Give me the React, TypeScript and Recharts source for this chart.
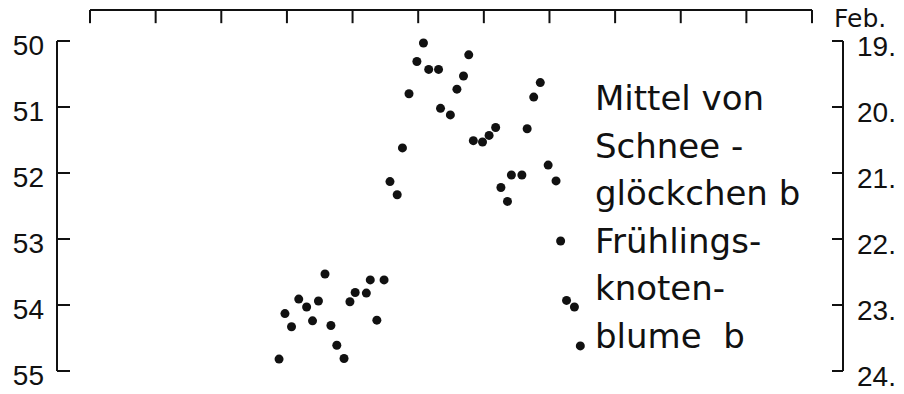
import React from "react";
import {
  ScatterChart,
  Scatter,
  XAxis,
  YAxis,
  ReferenceLine,
} from "recharts";

// Jahr (relativ, 10er-Teilung der oberen Achse) und Tag im Jahr
const jahre = [
  28.8, 29.7, 30.7, 31.8, 33.0, 33.9, 34.8, 35.8, 36.7, 37.6, 38.7, 39.6,
  40.4, 42.1, 42.7, 43.7, 44.8, 45.7, 46.8, 47.6, 48.6, 49.8, 50.8, 51.6,
  53.1, 53.4, 54.9, 55.9, 56.9, 57.7, 58.4, 59.8, 60.8, 61.8, 62.6, 63.6,
  64.2, 65.8, 66.6, 67.6, 68.6, 69.8, 71.0, 71.7, 72.6, 73.8, 74.7,
];
const tage = [
  54.82, 54.13, 54.33, 53.91, 54.03, 54.24, 53.94, 53.53, 54.31, 54.61,
  54.81, 53.95, 53.81, 53.82, 53.62, 54.23, 53.62, 52.13, 52.33, 51.62,
  50.8, 50.31, 50.03, 50.43, 50.43, 51.02, 51.12, 50.73, 50.53, 50.21,
  51.51, 51.53, 51.43, 51.31, 52.22, 52.43, 52.03, 52.03, 51.33, 50.85,
  50.63, 51.88, 52.12, 53.03, 53.93, 54.03, 54.62,
];

const tagTicks = [50, 51, 52, 53, 54, 55];
const datumLabels = ["19.", "20.", "21.", "22.", "23.", "24."];
const dekaden = [0, 10, 20, 30, 40, 50, 60, 70, 80, 90, 100, 110];
const legendeZeilen = [
  "Mittel von",
  "Schnee -",
  "glöckchen b",
  "Frühlings-",
  "knoten-",
  "blume  b",
];

const data = jahre.map((j, i) => ({ jahr: j, tag: tage[i] }));

const INK = "#111";
const NUM_FONT = "'Liberation Sans', Arial, sans-serif";
const TXT_FONT = "'DejaVu Sans', sans-serif";

// x scale: 6.564 px per year, tick 0 at px 90, plot from 57 to 843
const X_MIN = -5.03;
const X_MAX = 114.72;
const TOP_Y = 49.53; // top axis line sits above the plot
const TICK_LEN = 0.2;

const LeftTick = (props: any) => {
  const { x, y, payload } = props;
  return (
    <g>
      <line x1={x} x2={x + 13} y1={y} y2={y} stroke={INK} strokeWidth={2} />
      <text
        x={x - 13}
        y={y + 4}
        textAnchor="end"
        dominantBaseline="central"
        fontFamily={NUM_FONT}
        fontSize={28}
        fill={INK}
      >
        {payload.value}
      </text>
    </g>
  );
};

const RightTick = (props: any) => {
  const { x, y, payload } = props;
  const idx = tagTicks.indexOf(payload.value);
  return (
    <g>
      <line x1={x - 11} x2={x} y1={y} y2={y} stroke={INK} strokeWidth={2} />
      <text
        x={x + 14}
        y={y + 5}
        textAnchor="start"
        dominantBaseline="central"
        fontFamily={NUM_FONT}
        fontSize={28}
        fill={INK}
      >
        {datumLabels[idx]}
      </text>
    </g>
  );
};

const Dot = (props: any) => (
  <circle cx={props.cx} cy={props.cy} r={4.5} fill={INK} />
);

export default function App() {
  return (
    <div style={{ width: 904, height: 394, background: "#fff" }}>
      <style>{"body{margin:0}"}</style>
      <ScatterChart
        width={904}
        height={394}
        margin={{ top: 41, right: 0, bottom: 23, left: 0 }}
      >
        <XAxis
          type="number"
          dataKey="jahr"
          domain={[X_MIN, X_MAX]}
          hide
        />
        <YAxis
          yAxisId="left"
          type="number"
          dataKey="tag"
          domain={[50, 55]}
          ticks={tagTicks}
          reversed
          width={57}
          tickSize={0}
          tickMargin={0}
          tickLine={false}
          axisLine={{ stroke: INK, strokeWidth: 2 }}
          tick={<LeftTick />}
        />
        <YAxis
          yAxisId="right"
          orientation="right"
          type="number"
          domain={[50, 55]}
          allowDataOverflow
          ticks={tagTicks}
          reversed
          width={61}
          tickSize={0}
          tickMargin={0}
          tickLine={false}
          axisLine={{ stroke: INK, strokeWidth: 2 }}
          tick={<RightTick />}
        />

        {/* obere Achse */}
        <ReferenceLine
          yAxisId="left"
          segment={[
            { x: dekaden[0], y: TOP_Y },
            { x: dekaden[dekaden.length - 1], y: TOP_Y },
          ]}
          stroke={INK}
          strokeWidth={2}
          ifOverflow="visible"
        />
        {dekaden.map((d) => (
          <ReferenceLine
            key={d}
            yAxisId="left"
            segment={[
              { x: d, y: TOP_Y },
              { x: d, y: TOP_Y + TICK_LEN },
            ]}
            stroke={INK}
            strokeWidth={2}
            ifOverflow="visible"
          />
        ))}

        <Scatter
          yAxisId="left"
          data={data}
          dataKey="tag"
          shape={<Dot />}
          isAnimationActive={false}
        />
        <Scatter
          yAxisId="right"
          data={data}
          dataKey="tag"
          shape={() => <g />}
          isAnimationActive={false}
        />

        <text x={834} y={27} fontFamily={TXT_FONT} fontSize={25} fill={INK}>
          Feb.
        </text>
        {legendeZeilen.map((z, i) => (
          <text
            key={z}
            x={595}
            y={110 + i * 47.6}
            fontFamily={TXT_FONT}
            fontSize={34}
            fill={INK}
            style={{ whiteSpace: "pre" }}
          >
            {z}
          </text>
        ))}
      </ScatterChart>
    </div>
  );
}
